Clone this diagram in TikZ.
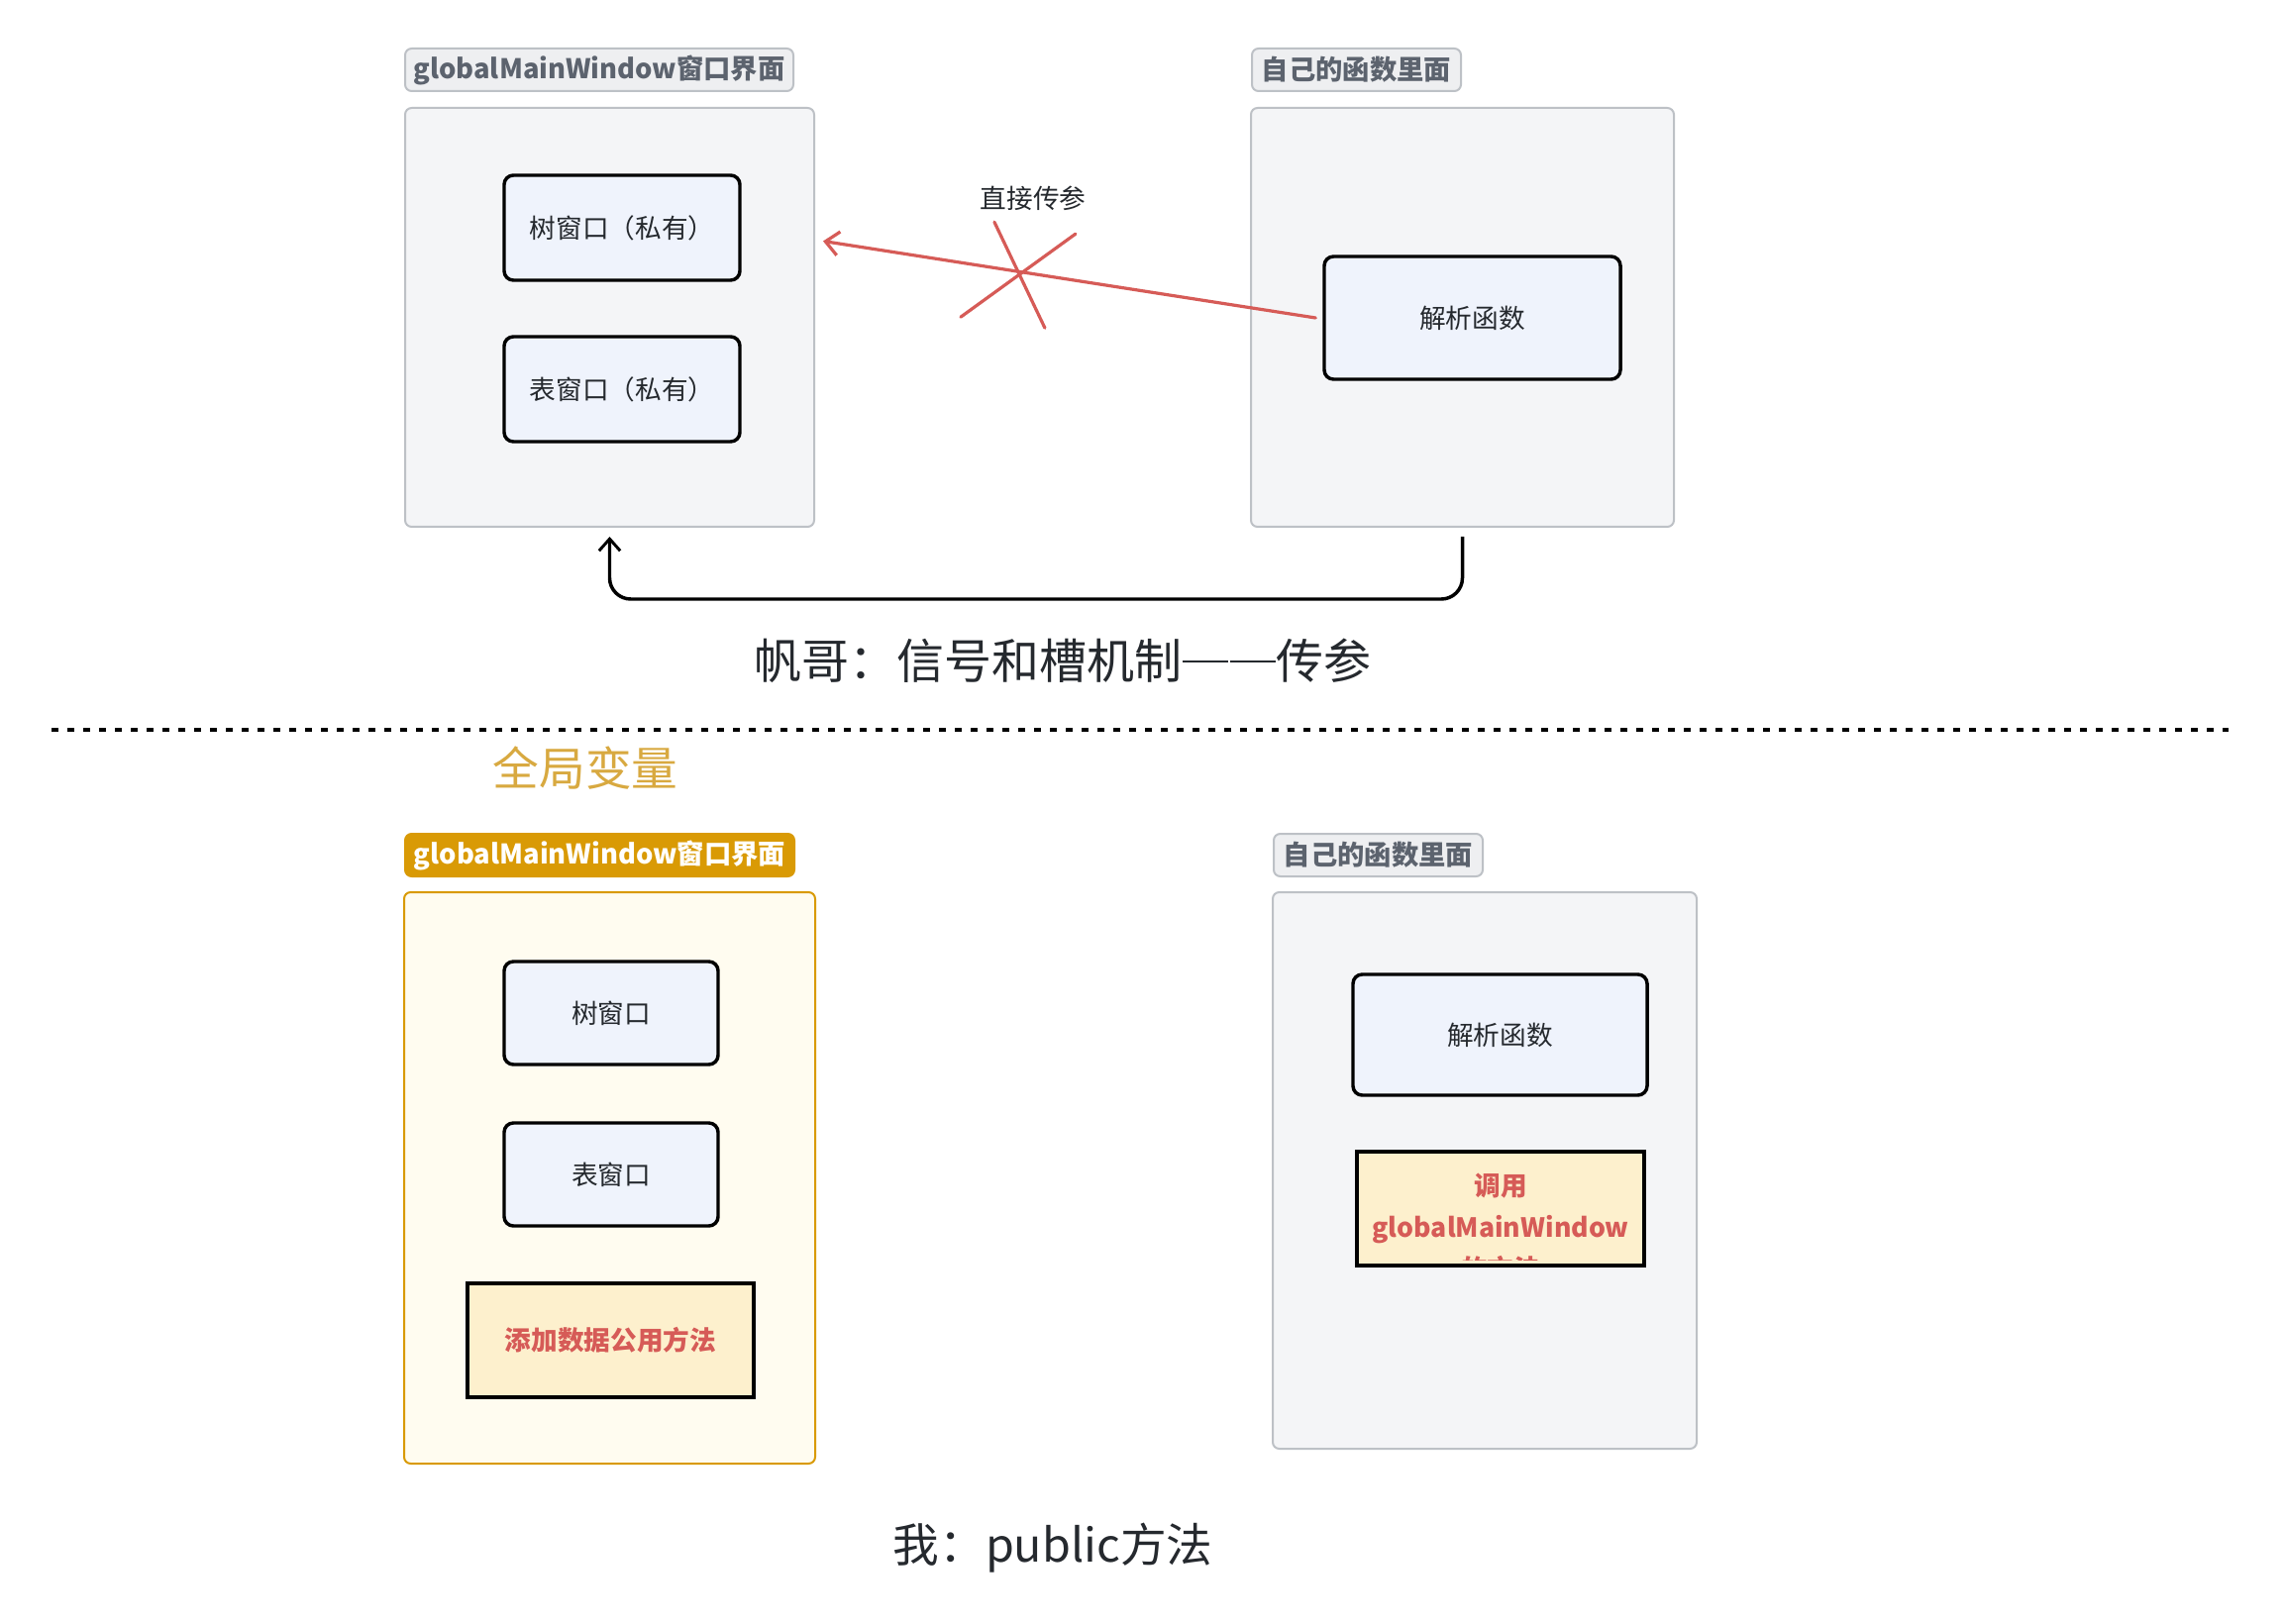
\documentclass[tikz,border=0pt]{standalone}
\usepackage{fontspec}
\setmainfont{Noto Sans CJK SC}
\usetikzlibrary{arrows.meta,calc}
\definecolor{contfill}{HTML}{F4F5F7}
\definecolor{contdraw}{HTML}{BDC1C6}
\definecolor{labfill}{HTML}{EEEFF1}
\definecolor{labtext}{HTML}{5C636E}
\definecolor{boxfill}{HTML}{EFF3FC}
\definecolor{redc}{HTML}{D65B57}
\definecolor{goldc}{HTML}{D99A05}
\definecolor{goldfill}{HTML}{FFFCF0}
\definecolor{goldtext}{HTML}{D8A940}
\definecolor{yfill}{HTML}{FDF0CD}
\definecolor{txt}{HTML}{25292E}
\begin{document}
\begin{tikzpicture}[x=0.75pt,y=-0.75pt,
  every node/.style={text=txt, inner sep=0pt, font=\fontsize{20}{24}\selectfont},
  sz/.style 2 args={minimum width={#1*0.75pt}, minimum height={#2*0.75pt}},
  cont/.style={draw=contdraw, fill=contfill, line width=1.5pt, rounded corners=5pt},
  goldcont/.style={draw=goldc, fill=goldfill, line width=1.5pt, rounded corners=5pt},
  contlabel/.style={draw=contdraw, fill=labfill, line width=1.5pt, rounded corners=5pt,
     text=labtext, font=\fontsize{20.5}{24}\selectfont\bfseries, anchor=north west},
  goldlabel/.style={draw=goldc, fill=goldc, line width=1.5pt, rounded corners=5pt,
     text=white, font=\fontsize{20.5}{24}\selectfont\bfseries, anchor=north west},
  wbox/.style={draw=black, fill=boxfill, line width=2.6pt, rounded corners=7pt},
  ybox/.style={draw=black, fill=yfill, line width=3pt},
  redtext/.style={text=redc, font=\fontsize{20}{24}\selectfont\bfseries},
  conn/.style={draw=black, line width=2.6pt, rounded corners=16pt,
     -{Straight Barb[length=9pt,width=16pt,line width=2.2pt]}},
  redarrow/.style={draw=redc, line width=2.4pt, line cap=round,
     -{Straight Barb[length=10pt,width=18pt,line width=2.4pt]}},
  redx/.style={draw=redc, line width=2.4pt, line cap=round},
  title/.style={font=\fontsize{36}{42}\selectfont}
]
\useasboundingbox (0,0) rectangle (2306,1640);
\fill[white] (0,0) rectangle (2306,1640);

% ---------- upper part ----------
\node[cont, sz={413}{423}] (lc) at (615.5,320.5) {};
\node[contlabel, sz={392}{43}] (lcl) at (408,48) {globalMainWindow窗口界面};
\node[cont, sz={427}{423}] (rc) at (1476.5,320.5) {};
\node[contlabel, sz={211}{43}] (rcl) at (1263,48) {自己的函数里面};

\node[wbox, sz={238}{106}] (tree) at (628,230) {树窗口（私有）};
\node[wbox, sz={238}{106}] (table) at (628,393) {表窗口（私有）};
\node[wbox, sz={299}{124}] (parse) at (1486.5,321) {解析函数};

\coordinate (rstart) at ($(parse.west)+(-7,0)$);
\coordinate (rtip) at ($(lc.east)+(8,-77)$);
\draw[redarrow] (rstart) -- (rtip);
\coordinate (cx) at ($(rstart)!0.604!(rtip)$);
\draw[redx] ($(cx)+(-24,-50)$) -- ($(cx)+(27,57)$);
\draw[redx] ($(cx)+(58,-38)$) -- ($(cx)+(-58,46)$);
\node (direct) at (1043,200) {直接传参};

\draw[conn] ($(rc.south)+(0,9)$) -- ($(rc.south)+(0,72)$) -| ($(lc.south)+(0,9)$);

\node[title] (t1) at (1073,667) {帆哥：信号和槽机制\rule[0.33em]{0.96em}{0.055em}\hspace{0.04em}\rule[0.33em]{0.96em}{0.055em}传参};

\draw[line width=3pt, dash pattern=on 5pt off 7pt] (52,737) -- (2250,737);

\node[font=\fontsize{35}{40}\selectfont, text=goldtext] (gv) at (591,776) {全局变量};

% ---------- lower part ----------
\node[goldcont, sz={415}{577}] (lc2) at (615.5,1189.5) {};
\node[goldlabel, sz={393}{43}] (lcl2) at (408,841) {globalMainWindow窗口界面};
\node[cont, sz={428}{562}] (rc2) at (1499,1182) {};
\node[contlabel, sz={211}{43}] (rcl2) at (1285,841) {自己的函数里面};

\node[wbox, sz={216}{104}] (tree2) at (617,1023) {树窗口};
\node[wbox, sz={216}{104}] (table2) at (617,1186) {表窗口};
\node[ybox, sz={289}{115}] (addm) at (616.5,1353.5) {};
\node[redtext] at (addm.center) {添加数据公用方法};

\node[wbox, sz={297}{122}] (parse2) at (1514.5,1045) {解析函数};
\node[ybox, sz={290}{115}] (call) at (1515,1220.5) {};
\begin{scope}
  \clip ([shift={(3,3)}]call.north west) rectangle ([shift={(-3,-8)}]call.south east);
  \node[redtext, align=center, font=\fontsize{20}{31.5}\selectfont\bfseries] at (1515,1240) {调用\\globalMainWindow\\的方法};
\end{scope}

\node[font=\fontsize{35}{40}\selectfont] (t2) at (1063,1563) {我：public方法};
\end{tikzpicture}
\end{document}
